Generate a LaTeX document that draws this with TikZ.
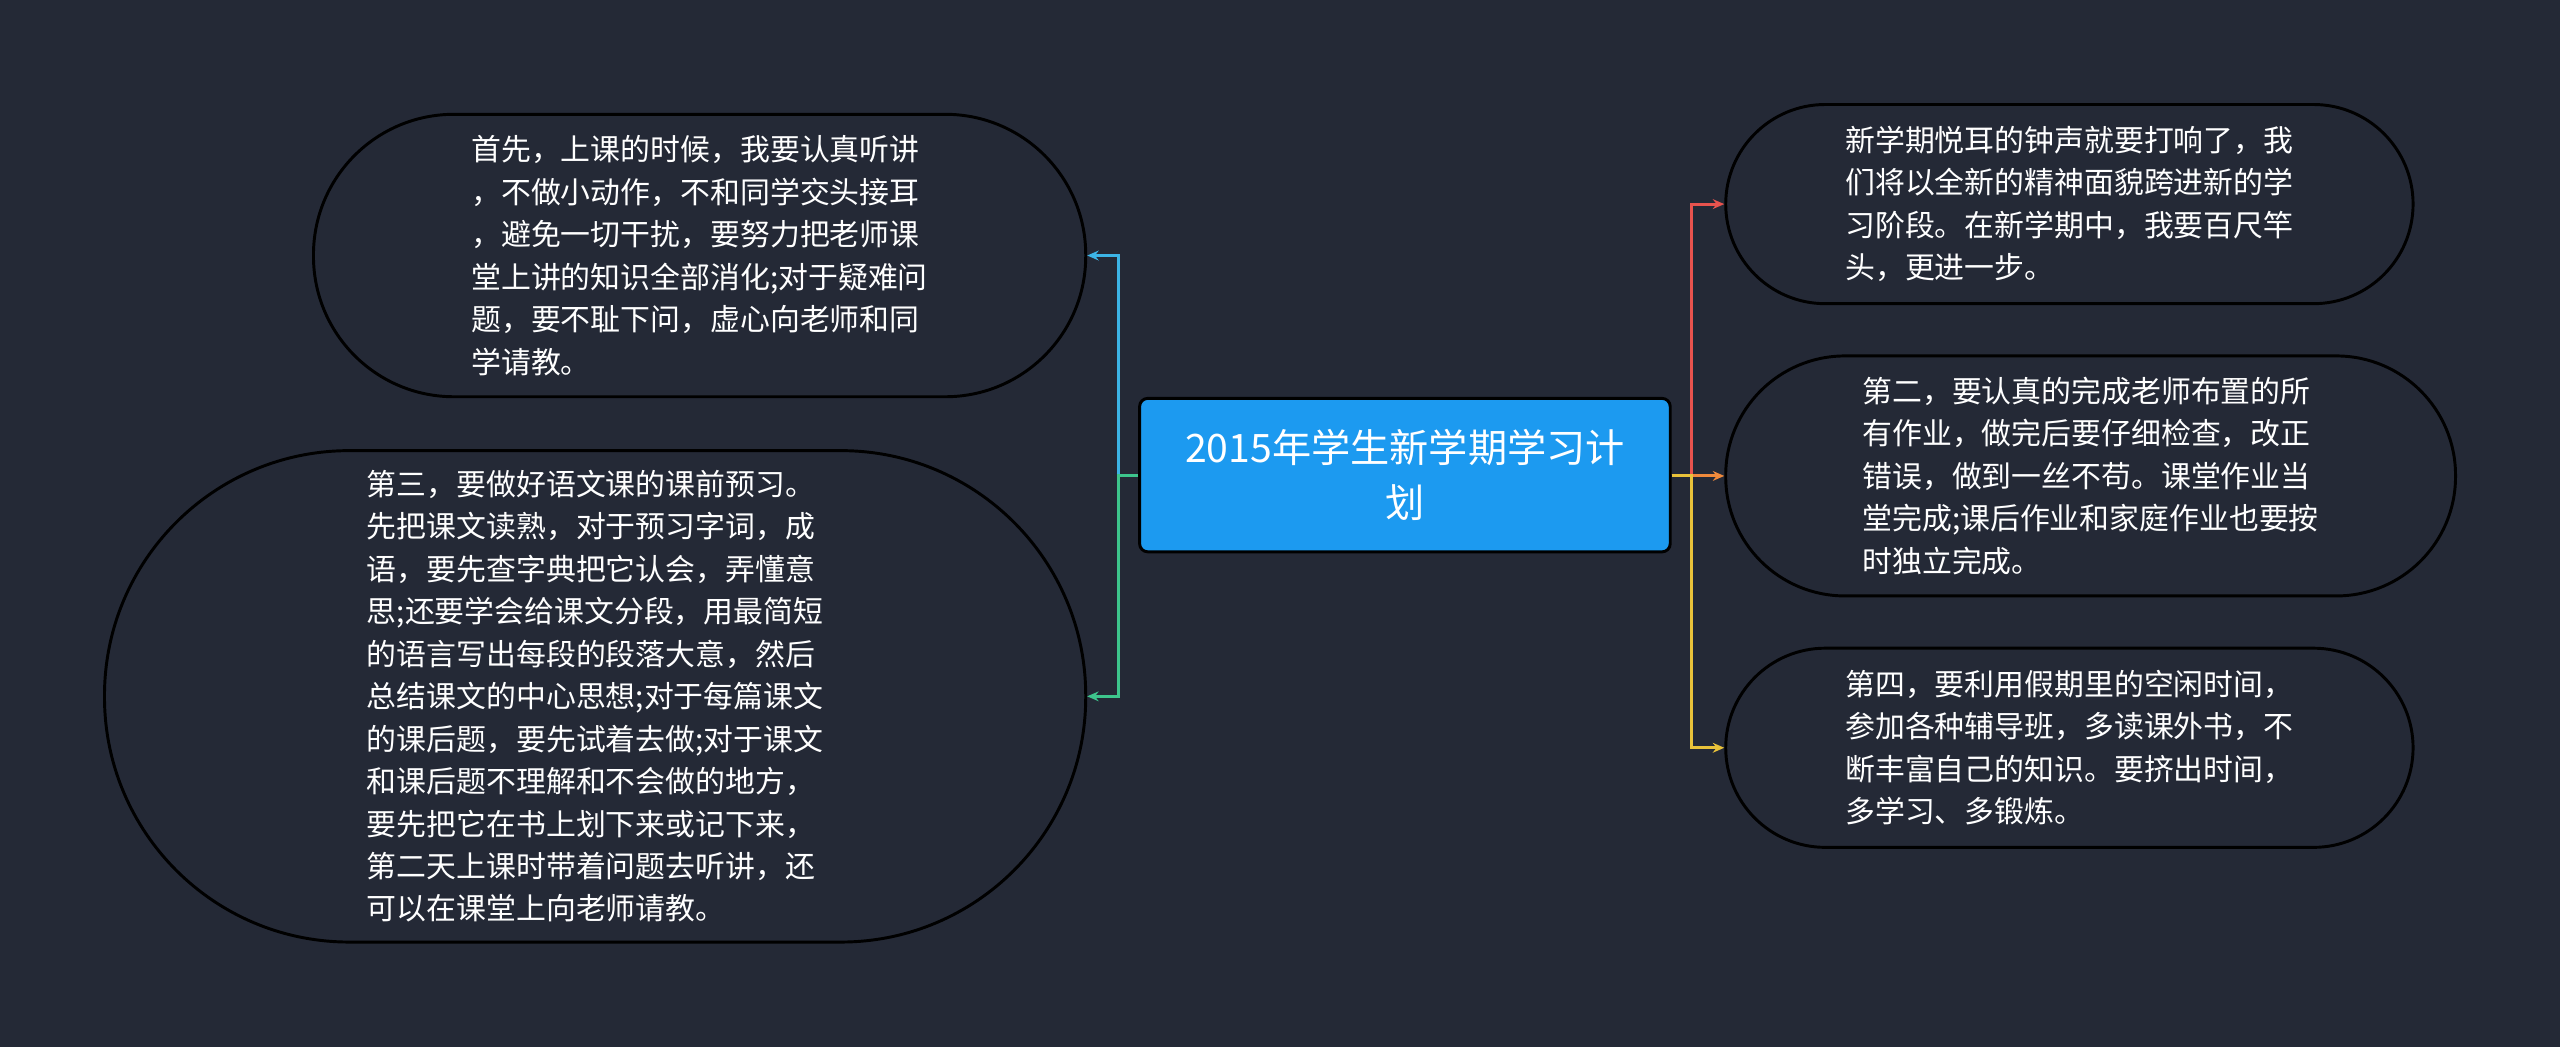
\documentclass[tikz,border=0pt]{standalone}
\usepackage{fontspec}
\setmainfont{Noto Sans CJK SC}
\usetikzlibrary{arrows.meta}
\definecolor{bg}{HTML}{242936}
\definecolor{cblue}{HTML}{1C9AF0}
\definecolor{lblue}{HTML}{3CB4E6}
\definecolor{lgreen}{HTML}{3DC58C}
\definecolor{lred}{HTML}{E8534E}
\definecolor{lorange}{HTML}{F08A3C}
\definecolor{lyellow}{HTML}{E9C23A}
\tikzset{
 leaf/.style={draw=black, line width=1.8pt, fill=bg, text=white, align=left,
   font=\fontsize{18.3}{26}\selectfont, inner sep=0pt},
 conn/.style={line width=1.8pt, -{Stealth[length=7pt,width=6pt]}},
}
\begin{document}
\begin{tikzpicture}[x=1pt,y=1pt]
\fill[bg] (0,0) rectangle (1568,-641);
\useasboundingbox (0,0) rectangle (1568,-641);
\node[draw=black, line width=1.8pt, fill=cblue, text=white, rounded corners=5pt,
  minimum width=325pt, minimum height=94pt, align=center,
  font=\fontsize{24}{34}\selectfont] (c) at (860.5,-291) {2015年学生新学期学习计\\划};
\node[leaf, minimum width=473pt, minimum height=173pt, rounded corners=86pt] (l1) at (428.5,-156.5)
 {首先，上课的时候，我要认真听讲\\，不做小动作，不和同学交头接耳\\，避免一切干扰，要努力把老师课\\堂上讲的知识全部消化;对于疑难问\\题，要不耻下问，虚心向老师和同\\学请教。};
\node[leaf, minimum width=601pt, minimum height=301pt, rounded corners=150pt] (l2) at (364.5,-426.5)
 {第三，要做好语文课的课前预习。\\先把课文读熟，对于预习字词，成\\语，要先查字典把它认会，弄懂意\\思;还要学会给课文分段，用最简短\\的语言写出每段的段落大意，然后\\总结课文的中心思想;对于每篇课文\\的课后题，要先试着去做;对于课文\\和课后题不理解和不会做的地方，\\要先把它在书上划下来或记下来，\\第二天上课时带着问题去听讲，还\\可以在课堂上向老师请教。};
\node[leaf, minimum width=421pt, minimum height=122pt, rounded corners=61pt] (r1) at (1267.5,-125)
 {新学期悦耳的钟声就要打响了，我\\们将以全新的精神面貌跨进新的学\\习阶段。在新学期中，我要百尺竿\\头，更进一步。};
\node[leaf, minimum width=447pt, minimum height=147pt, rounded corners=73pt] (r2) at (1280.5,-291.5)
 {第二，要认真的完成老师布置的所\\有作业，做完后要仔细检查，改正\\错误，做到一丝不苟。课堂作业当\\堂完成;课后作业和家庭作业也要按\\时独立完成。};
\node[leaf, minimum width=421pt, minimum height=122pt, rounded corners=61pt] (r3) at (1267.5,-458)
 {第四，要利用假期里的空闲时间，\\参加各种辅导班，多读课外书，不\\断丰富自己的知识。要挤出时间，\\多学习、多锻炼。};
\draw[conn, lblue] (c.west) -- ++(-12,0) |- (l1.east);
\draw[conn, lgreen] (c.west) -- ++(-12,0) |- (l2.east);
\draw[conn, lred] (c.east) -- ++(12,0) |- (r1.west);
\draw[conn, lorange] (c.east) -- ++(12,0) |- (r2.west);
\draw[conn, lyellow] (c.east) -- ++(12,0) |- (r3.west);
\end{tikzpicture}
\end{document}
